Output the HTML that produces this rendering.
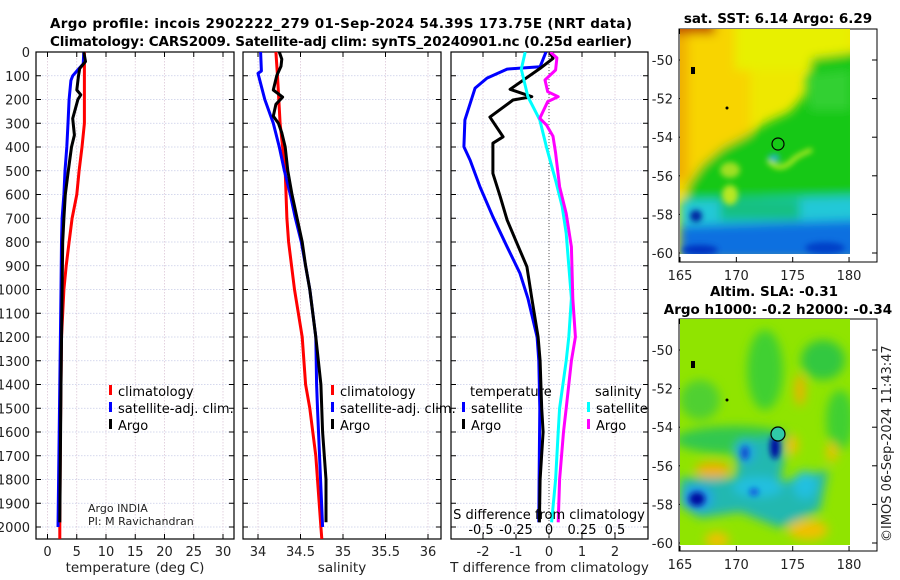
<!DOCTYPE html>
<html><head><meta charset="utf-8"><style>
body{margin:0;background:#fff;}
svg{display:block;font-family:"DejaVu Sans","Liberation Sans",sans-serif;}
</style></head><body>
<svg id="fig" width="900" height="580" viewBox="0 0 900 580" xmlns="http://www.w3.org/2000/svg">
<defs>
<filter id="bl" x="-20%" y="-20%" width="140%" height="140%"><feGaussianBlur stdDeviation="5"/></filter>
<filter id="bl2" x="-20%" y="-20%" width="140%" height="140%"><feGaussianBlur stdDeviation="3"/></filter>
<clipPath id="c1"><rect x="680" y="29" width="170" height="225"/></clipPath>
<clipPath id="c2"><rect x="680" y="319" width="170" height="226"/></clipPath>
<clipPath id="p1"><rect x="36" y="52" width="198" height="487"/></clipPath>
<clipPath id="p2"><rect x="243" y="52" width="198" height="487"/></clipPath>
<clipPath id="p3"><rect x="451" y="52" width="197" height="487"/></clipPath>
</defs>
<g font-weight="bold" font-size="13.5" text-anchor="middle" fill="#000">
<text x="341" y="28" textLength="582">Argo profile: incois 2902222_279 01-Sep-2024 54.39S 173.75E (NRT data)</text>
<text x="341" y="46" textLength="582">Climatology: CARS2009. Satellite-adj clim: synTS_20240901.nc (0.25d earlier)</text>
<text x="778" y="23">sat. SST: 6.14 Argo: 6.29</text>
<text x="774" y="296">Altim. SLA: -0.31</text>
<text x="778" y="314">Argo h1000: -0.2 h2000: -0.34</text>
</g>
<g id="axes"></g>
<g id="series"></g>

<!-- SST map -->
<g>
<g clip-path="url(#c1)">
<rect x="680" y="29" width="170" height="225" fill="#eee800"/>
<g filter="url(#bl)">
<rect x="670" y="20" width="80" height="175" fill="#f8d400"/>
<rect x="670" y="20" width="18" height="160" fill="#f0b000"/>
<rect x="670" y="20" width="45" height="14" fill="#c04000"/>
<rect x="735" y="20" width="115" height="50" fill="#e8f000"/>
<polygon points="860,52 812,58 805,95 790,112 768,122 745,136 722,148 702,165 688,185 685,210 860,210" fill="#12c812"/>
<polygon points="805,75 850,70 850,110 810,110" fill="#30d030"/>
<polygon points="680,200 860,196 860,260 680,260" fill="#20c8d8"/>
<polygon points="680,226 860,220 860,260 680,260" fill="#1070e0"/>
<rect x="720" y="200" width="80" height="20" fill="#18c080"/>
</g>
<g filter="url(#bl2)">
<ellipse cx="696" cy="216" rx="6" ry="6" fill="#0020a0"/>
<ellipse cx="700" cy="250" rx="18" ry="5" fill="#0030c0"/>
<ellipse cx="825" cy="248" rx="20" ry="6" fill="#0040c8"/>
<path d="M768,160 Q780,175 795,158 Q805,152 812,150" stroke="#c8f020" stroke-width="4" fill="none"/>
<ellipse cx="774" cy="158" rx="6" ry="4" fill="#20b8c0"/>
<ellipse cx="730" cy="195" rx="8" ry="10" fill="#b8e820"/>
<ellipse cx="730" cy="170" rx="10" ry="8" fill="#a0e020"/>
</g>
</g>
<rect x="691" y="67" width="4" height="7" fill="#000"/>
<circle cx="727" cy="108" r="1.5" fill="#000"/>
<circle cx="778" cy="144" r="6" fill="none" stroke="#000" stroke-width="1.2"/>
</g>

<!-- SLA map -->
<g>
<g clip-path="url(#c2)">
<rect x="680" y="319" width="170" height="226" fill="#90e400"/>
<g filter="url(#bl)">
<ellipse cx="765" cy="370" rx="18" ry="40" fill="#40d030"/>
<ellipse cx="823" cy="360" rx="22" ry="20" fill="#30c840"/>
<ellipse cx="700" cy="400" rx="20" ry="20" fill="#50d030"/>
<ellipse cx="735" cy="440" rx="60" ry="14" fill="#30c850"/>
<ellipse cx="840" cy="420" rx="14" ry="30" fill="#40d030"/>
<ellipse cx="800" cy="390" rx="5" ry="16" fill="#f0b000"/>
<ellipse cx="792" cy="445" rx="6" ry="10" fill="#f0c000"/>
<ellipse cx="832" cy="452" rx="5" ry="10" fill="#f0c000"/>
<ellipse cx="713" cy="470" rx="18" ry="8" fill="#f0b000"/>
<ellipse cx="750" cy="463" rx="12" ry="9" fill="#e8e800"/>
<ellipse cx="808" cy="530" rx="20" ry="10" fill="#f0c000"/>
<ellipse cx="717" cy="540" rx="12" ry="8" fill="#f0c000"/>
<polygon points="742,442 775,436 785,455 780,482 828,470 820,510 780,528 740,512 700,518 680,505 680,478 735,478" fill="#20b8b0"/>
<ellipse cx="745" cy="452" rx="10" ry="12" fill="#20a8e0"/>
<ellipse cx="758" cy="487" rx="25" ry="10" fill="#20c0e0"/>
<ellipse cx="805" cy="485" rx="12" ry="14" fill="#20c0e0"/>
<ellipse cx="697" cy="498" rx="16" ry="13" fill="#20a0e8"/>
</g>
<g filter="url(#bl2)">
<ellipse cx="697" cy="499" rx="8" ry="7" fill="#0010a0"/>
<ellipse cx="775" cy="447" rx="5" ry="12" fill="#0010a0"/>
<ellipse cx="745" cy="453" rx="4" ry="7" fill="#1050d0"/>
<ellipse cx="754" cy="492" rx="5" ry="4" fill="#1060e0"/>
</g>
</g>
<rect x="691" y="361" width="4" height="7" fill="#000"/>
<circle cx="727" cy="400" r="1.5" fill="#000"/>
<circle cx="778" cy="434" r="7" fill="#30c8a8" stroke="#000" stroke-width="1.2"/>
</g>
<text x="0" y="0" transform="translate(891,542) rotate(-90)" font-size="13" fill="#222">©IMOS 06-Sep-2024 11:43:47</text>
</svg>
<script>
// depth axis
const depthTicks=[0,100,200,300,400,500,600,700,800,900,1000,1100,1200,1300,1400,1500,1600,1700,1800,1900,2000];
const tempTicks=[0,5,10,15,20,25,30];
const salTicks=[34,34.5,35,35.5,36];
const salTickLabels=["34","34.5","35","35.5","36"];
const diffTicks=[-2,-1,0,1,2];
const sdiffLabels=["-0.5","-0.25","0","0.25","0.5"];
const latTicks=[-50,-52,-54,-56,-58,-60];
const lonTicks=[165,170,175,180];
// temperature profiles
const tClimDepth=[0,100,200,300,400,500,600,700,800,900,1000,1200,1400,1600,1800,2000,2050];
const tClim=[6.3,6.3,6.3,6.3,5.9,5.4,5.0,4.2,3.7,3.2,2.8,2.4,2.3,2.2,2.15,2.1,2.1];
const tSatDepth=[0,50,75,100,120,200,300,400,500,600,700,800,1000,1400,2000];
const tSat=[6.2,6.1,5.2,4.3,4.0,3.7,3.5,3.3,3.0,2.8,2.5,2.4,2.3,2.1,1.8];
const tArgoDepth=[0,40,70,100,160,180,200,280,350,400,500,600,700,800,1000,1400,1980];
const tArgo=[6.2,6.5,5.5,5.3,5.0,5.7,5.2,4.3,4.6,4.1,3.55,3.05,2.8,2.6,2.5,2.3,2.1];
// salinity profiles
const sClimDepth=[0,100,300,400,500,700,800,1000,1200,1400,1500,1700,2000,2050];
const sClim=[34.21,34.23,34.26,34.29,34.32,34.34,34.36,34.43,34.52,34.56,34.61,34.68,34.74,34.75];
const sSatDepth=[0,80,90,200,300,400,500,600,700,800,900,1000,1200,1400,1500,2000];
const sSat=[34.03,34.04,34.0,34.08,34.18,34.25,34.31,34.38,34.44,34.51,34.56,34.61,34.68,34.69,34.7,34.76];
const sArgoDepth=[0,30,60,100,160,190,220,270,300,340,400,500,600,700,800,900,1000,1200,1400,1600,1800,1980];
const sArgo=[34.25,34.28,34.27,34.22,34.18,34.29,34.21,34.18,34.24,34.28,34.32,34.35,34.40,34.46,34.52,34.56,34.61,34.68,34.74,34.76,34.8,34.8];
// differences from climatology
const dtSatDepth=[0,62,72,110,152,286,399,455,568,694,820,932,1037,1200,1300,1500,1800,1980];
const dtSat=[-0.09,-0.27,-1.27,-1.88,-2.24,-2.55,-2.58,-2.39,-2.09,-1.70,-1.27,-0.88,-0.64,-0.36,-0.31,-0.28,-0.30,-0.31];
const dtArgoDepth=[0,27,69,157,188,202,274,357,384,511,609,707,806,904,1037,1200,1300,1500,1600,1800,1980];
const dtArgo=[0.03,0.12,-0.27,-1.18,-0.52,-1.09,-1.79,-1.39,-1.70,-1.70,-1.48,-1.27,-0.97,-0.67,-0.52,-0.33,-0.27,-0.22,-0.18,-0.27,-0.29];
const dsSatDepth=[0,73,188,286,399,540,651,764,1037,1200,1300,1500,1600,1800,1980];
const dsSat=[-0.18,-0.21,-0.16,-0.07,-0.02,0.05,0.10,0.13,0.17,0.15,0.13,0.08,0.07,0.05,0.02];
const dsArgoDepth=[0,25,76,118,167,188,209,279,307,355,425,567,680,820,1037,1200,1300,1500,1600,1800,1980];
const dsArgo=[0.01,0.06,0.05,-0.03,-0.01,0.07,-0.01,-0.07,-0.02,0.03,0.05,0.08,0.13,0.17,0.18,0.20,0.17,0.13,0.11,0.08,0.07];

const NS="http://www.w3.org/2000/svg";
const yD=d=>52+d*0.2375;
const xT=t=>47.5+5.85*t;
const xS=s=>258+85*(s-34);
const xDT=t=>549+33*t;
const xDS=s=>549+132*s;
const axes=document.getElementById('axes'), ser=document.getElementById('series');
function mk(tag,attrs,parent){const e=document.createElementNS(NS,tag);for(const k in attrs)e.setAttribute(k,attrs[k]);parent.appendChild(e);return e;}
function txt(x,y,s,anchor,size,parent){const e=mk('text',{x:x,y:y,'text-anchor':anchor,'font-size':size,fill:'#222'},parent);e.textContent=s;return e;}
const panels=[{x0:36,x1:234,name:'temperature-panel',xf:xT,ticks:tempTicks,labels:tempTicks.map(String),title:'temperature (deg C)',clip:'p1'},
{x0:243,x1:441,name:'salinity-panel',xf:xS,ticks:salTicks,labels:salTickLabels,title:'salinity',clip:'p2'},
{x0:451,x1:648,name:'difference-panel',xf:xDT,ticks:diffTicks,labels:diffTicks.map(String),title:'T difference from climatology',clip:'p3'}];
panels.forEach((p,i)=>{
 const g=mk('g',{},axes);
 
 
 depthTicks.forEach(d=>{mk('line',{x1:p.x0,x2:p.x1,y1:yD(d),y2:yD(d),stroke:'#c8cce8','stroke-width':0.8,'stroke-dasharray':'1.5,1.5'},g);
  mk('line',{x1:p.x0,x2:p.x0+5,y1:yD(d),y2:yD(d),stroke:'#000'},g);mk('line',{x1:p.x1-5,x2:p.x1,y1:yD(d),y2:yD(d),stroke:'#000'},g);
  if(i===0){const t=txt(30,yD(d)+5,String(d),'end',13,g);}});
 p.ticks.forEach((v,j)=>{const x=p.xf(v);mk('line',{x1:x,x2:x,y1:52,y2:539,stroke:'#dcc8d8','stroke-width':0.8,'stroke-dasharray':'1.5,1.5'},g);
  mk('line',{x1:x,x2:x,y1:539,y2:534,stroke:'#000'},g);mk('line',{x1:x,x2:x,y1:52,y2:57,stroke:'#000'},g);
  const t=txt(x,556,p.labels[j],'middle',13,g);});
 mk('rect',{x:p.x0,y:52,width:p.x1-p.x0,height:487,fill:'none',stroke:'#000','stroke-width':1.2},g);
 const tt=txt((p.x0+p.x1)/2,572,p.title,'middle',13.5,g);
});
mk('line',{x1:549,x2:549,y1:52,y2:539,stroke:'#555','stroke-width':1,'stroke-dasharray':'1,2'},axes);
function series(depths,vals,xf,color,clip,name){
 const pts=depths.map((d,k)=>xf(vals[k]).toFixed(1)+','+yD(d).toFixed(1)).join(' ');
 const e=mk('polyline',{points:pts,fill:'none',stroke:color,'stroke-width':3,'stroke-linejoin':'round','clip-path':'url(#'+clip+')'},ser);
 
 
}
series(tClimDepth,tClim,xT,'#ff0000','p1','temp-climatology-line');
series(tSatDepth,tSat,xT,'#0000ff','p1','temp-satellite-line');
series(tArgoDepth,tArgo,xT,'#000','p1','temp-argo-line');
series(sClimDepth,sClim,xS,'#ff0000','p2','sal-climatology-line');
series(sSatDepth,sSat,xS,'#0000ff','p2','sal-satellite-line');
series(sArgoDepth,sArgo,xS,'#000','p2','sal-argo-line');
series(dtSatDepth,dtSat,xDT,'#0000ff','p3','tdiff-satellite-line');
series(dtArgoDepth,dtArgo,xDT,'#000','p3','tdiff-argo-line');
series(dsSatDepth,dsSat,xDS,'#00ffff','p3','sdiff-satellite-line');
series(dsArgoDepth,dsArgo,xDS,'#ff00ff','p3','sdiff-argo-line');
// legends
function leg(x,y,color,label,name){const g=mk('g',{},ser);
 
 
 mk('rect',{x:x,y:y-11,width:3,height:10,fill:color},g);txt(x+9,y,label,'start',13,g).setAttribute('fill','#000');}
leg(109,396,'#ff0000','climatology','legend-climatology');
leg(109,413,'#0000ff','satellite-adj. clim.','legend-satellite-adj');
leg(109,430,'#000','Argo','legend-argo');
leg(331,396,'#ff0000','climatology','legend-climatology-2');
leg(331,413,'#0000ff','satellite-adj. clim.','legend-satellite-adj-2');
leg(331,430,'#000','Argo','legend-argo-2');
txt(470,396,'temperature','start',13,ser).setAttribute('fill','#000');
leg(462,413,'#0000ff','satellite','legend-t-satellite');
leg(462,430,'#000','Argo','legend-t-argo');
txt(595,396,'salinity','start',13,ser).setAttribute('fill','#000');
leg(587,413,'#00ffff','satellite','legend-s-satellite');
leg(587,430,'#ff00ff','Argo','legend-s-argo');
txt(88,512,'Argo INDIA','start',11,ser);
txt(88,525,'PI: M Ravichandran','start',11,ser);
txt(549,519,'S difference from climatology','middle',13,ser).setAttribute('fill','#000');
const sx=[481,516,549,582,615];
sdiffLabels.forEach((s,j)=>{txt(sx[j],534,s,'middle',13,ser).setAttribute('fill','#000');});
// map axes
[{y0:29,y1:262,latY:l=>60+(l+50)*-19.3,name:'sst-map-axes'},{y0:319,y1:551,latY:l=>350+(l+50)*-19.3,name:'sla-map-axes'}].forEach(m=>{
 const g=mk('g',{},axes);
 
 
 mk('rect',{x:679,y:m.y0,width:198,height:m.y1-m.y0,fill:'none',stroke:'#000','stroke-width':1},g);
 latTicks.forEach(l=>{const y=m.latY(l);mk('line',{x1:679,x2:684,y1:y,y2:y,stroke:'#000'},g);mk('line',{x1:872,x2:877,y1:y,y2:y,stroke:'#000'},g);txt(673,y+5,String(l),'end',13,g);});
 lonTicks.forEach(l=>{const x=680+(l-165)*11.27;mk('line',{x1:x,x2:x,y1:m.y1,y2:m.y1-5,stroke:'#000'},g);mk('line',{x1:x,x2:x,y1:m.y0,y2:m.y0+5,stroke:'#000'},g);txt(x,m.y1+18,String(l),'middle',13,g);});
});
</script>
</body></html>
